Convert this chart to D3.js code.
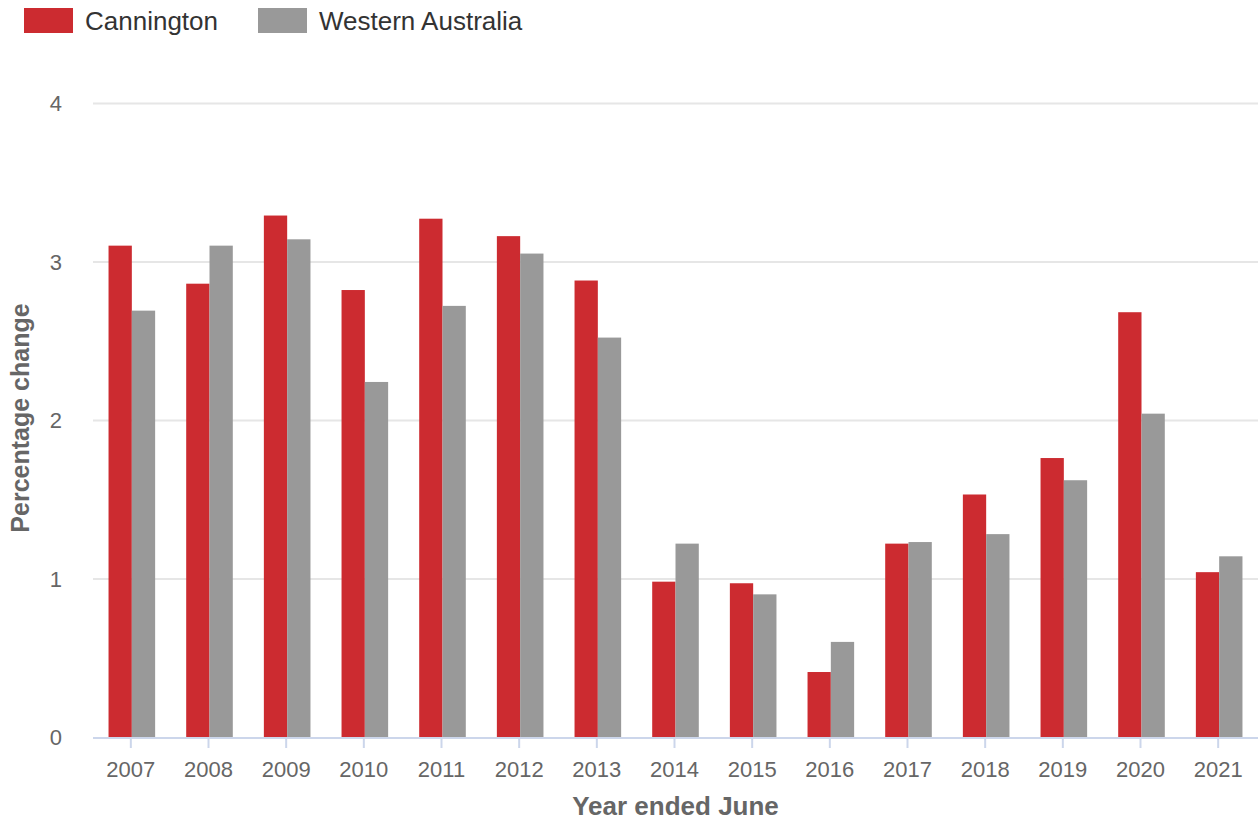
<!DOCTYPE html>
<html>
<head>
<meta charset="utf-8">
<script src="https://cdn.jsdelivr.net/npm/d3@7"></script>
<style>
  body { margin: 0; background: #fff; }
  svg { font-family: "Liberation Sans", Arial, Helvetica, sans-serif; }
</style>
</head>
<body>
<svg width="1258" height="823"></svg>
<script>
// chart data
var years = ["2007", "2008", "2009", "2010", "2011", "2012", "2013", "2014",
             "2015", "2016", "2017", "2018", "2019", "2020", "2021"];
var seriesNames = ["Cannington", "Western Australia"];
var seriesColors = ["#cc2b30", "#999999"];
var cannington = [3.10, 2.86, 3.29, 2.82, 3.27, 3.16, 2.88, 0.98, 0.97, 0.41, 1.22, 1.53, 1.76, 2.68, 1.04];
var westernAustralia = [2.69, 3.10, 3.14, 2.24, 2.72, 3.05, 2.52, 1.22, 0.90, 0.60, 1.23, 1.28, 1.62, 2.04, 1.14];
var yTicks = [0, 1, 2, 3, 4];

var svg = d3.select("svg");
var plotLeft = 93, plotRight = 1258, plotTop = 103, plotBottom = 737;

var x = d3.scaleBand().domain(years).range([plotLeft, plotRight])
          .paddingInner(0.4).paddingOuter(0.2);
var xInner = d3.scaleBand().domain(seriesNames).range([0, x.bandwidth()]);
var y = d3.scaleLinear().domain([0, 4]).range([plotBottom, plotTop]);

// gridlines
svg.append("g")
   .selectAll("line")
   .data(yTicks.filter(function(d) { return d > 0; }))
   .enter()
   .append("line")
   .attr("x1", plotLeft).attr("x2", plotRight)
   .attr("y1", function(d) { return y(d) + 0.5; })
   .attr("y2", function(d) { return y(d) + 0.5; })
   .attr("stroke", "#e6e6e6").attr("stroke-width", 2);

// y labels
svg.append("g")
   .selectAll("text")
   .data(yTicks)
   .enter()
   .append("text")
   .attr("x", 62)
   .attr("y", function(d) { return y(d) + 8; })
   .attr("text-anchor", "end")
   .attr("fill", "#666")
   .style("font-size", "22px")
   .text(function(d) { return d; });

// bars
var rows = years.map(function(yr, i) {
    return { year: yr, values: [cannington[i], westernAustralia[i]] };
});
var group = svg.append("g")
   .selectAll("g")
   .data(rows)
   .enter()
   .append("g")
   .attr("transform", function(d) { return "translate(" + x(d.year) + ",0)"; });

group.selectAll("rect")
     .data(function(d) { return d.values.map(function(v, k) { return { name: seriesNames[k], value: v, k: k }; }); })
     .enter()
     .append("rect")
     .attr("x", function(d) { return xInner(d.name); })
     .attr("width", xInner.bandwidth())
     .attr("y", function(d) { return y(d.value); })
     .attr("height", function(d) { return plotBottom - y(d.value); })
     .attr("fill", function(d) { return seriesColors[d.k]; });

// x axis line and ticks
svg.append("line")
   .attr("x1", plotLeft).attr("x2", plotRight)
   .attr("y1", plotBottom + 1).attr("y2", plotBottom + 1)
   .attr("stroke", "#ccd6eb").attr("stroke-width", 2);

svg.append("g")
   .selectAll("line")
   .data(years)
   .enter()
   .append("line")
   .attr("x1", function(d) { return x(d) + x.bandwidth() / 2 - 1; })
   .attr("x2", function(d) { return x(d) + x.bandwidth() / 2 - 1; })
   .attr("y1", plotBottom).attr("y2", plotBottom + 11)
   .attr("stroke", "#ccd6eb").attr("stroke-width", 2);

svg.append("g")
   .selectAll("text")
   .data(years)
   .enter()
   .append("text")
   .attr("x", function(d) { return x(d) + x.bandwidth() / 2 - 1; })
   .attr("y", 777)
   .attr("text-anchor", "middle")
   .attr("fill", "#666")
   .style("font-size", "22px")
   .text(function(d) { return d; });

// axis titles
svg.append("text")
   .attr("x", (plotLeft + plotRight) / 2)
   .attr("y", 815)
   .attr("text-anchor", "middle")
   .attr("fill", "#666")
   .style("font-size", "26px")
   .style("font-weight", "bold")
   .text("Year ended June");

svg.append("text")
   .attr("transform", "translate(29,418) rotate(-90)")
   .attr("text-anchor", "middle")
   .attr("fill", "#666")
   .style("font-size", "25px")
   .style("font-weight", "bold")
   .text("Percentage change");

// legend
var legendX = [24, 258];
var legend = svg.append("g")
   .selectAll("g")
   .data(seriesNames)
   .enter()
   .append("g")
   .attr("transform", function(d, i) { return "translate(" + legendX[i] + ",0)"; });

legend.append("rect")
      .attr("x", 0).attr("y", 8)
      .attr("width", 49).attr("height", 25)
      .attr("fill", function(d, i) { return seriesColors[i]; });

legend.append("text")
      .attr("x", 61).attr("y", 30)
      .attr("fill", "#333")
      .style("font-size", "26px")
      .text(function(d) { return d; });
</script>
</body>
</html>
